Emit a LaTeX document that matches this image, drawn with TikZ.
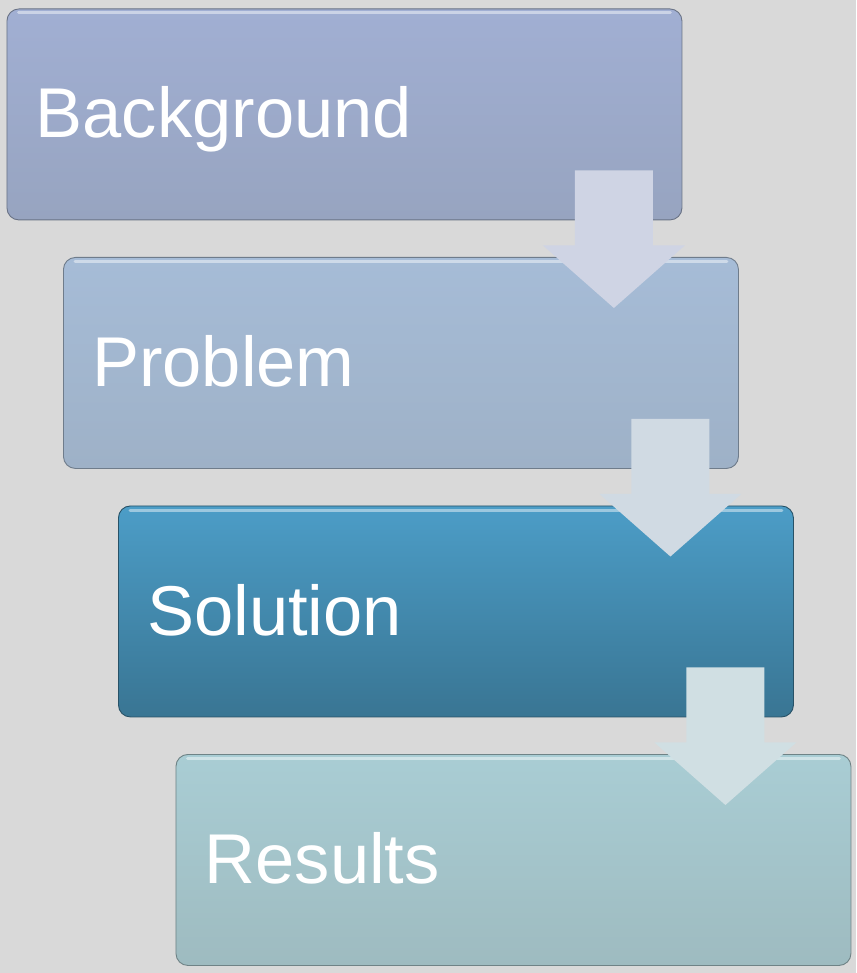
\documentclass[tikz,border=0pt]{standalone}
\usepackage{fontspec}
\setmainfont{Liberation Sans}
\usetikzlibrary{calc}
\definecolor{bgc}{HTML}{D9D9D9}
\definecolor{boxAt}{HTML}{A1AFD3}
\definecolor{boxAb}{HTML}{97A4C0}
\definecolor{boxBt}{HTML}{A6BCD7}
\definecolor{boxBb}{HTML}{9EB1C7}
\definecolor{boxCt}{HTML}{4C9DC7}
\definecolor{boxCb}{HTML}{397593}
\definecolor{boxDt}{HTML}{A9CDD4}
\definecolor{boxDb}{HTML}{9EBBC0}
\definecolor{arrA}{HTML}{CFD4E4}
\definecolor{arrB}{HTML}{D0DAE3}
\definecolor{arrC}{HTML}{D0DFE3}
\tikzset{
  stagebox/.style n args={2}{rounded corners=12pt, minimum width=675pt, minimum height=211pt,
    inner sep=0pt, anchor=north west, top color=#1, bottom color=#2, draw=#2!70!black, line width=0.9pt},
  stagetext/.style={anchor=base west, inner sep=0pt, text=white, font=\fontsize{70.5}{80}\selectfont},
  highlight/.style={white, opacity=0.45, line width=3pt, line cap=round},
}
\newcommand{\stagearrow}[3]{%
  \coordinate (#1c) at ($(#1.south east)+(-68.5,0)$);
  \coordinate (#1t) at ($(#2.north)+(0,51)$);
  \fill[#3] ($(#1c)+(-39,-50)$) -- ($(#1c)+(39,-50)$) -- ($(#1c)+(39,25)$) -- ($(#1c)+(71,25)$)
    -- (#1c |- #1t) -- ($(#1c)+(-71,25)$) -- ($(#1c)+(-39,25)$) -- cycle;
}
\newcommand{\boxshine}[1]{%
  \draw[highlight] ($(#1.north west)+(12,4.5)$) -- ($(#1.north east)+(-12,4.5)$);
}
\begin{document}
\begin{tikzpicture}[x=1pt, y=-1pt]
  \fill[bgc] (0,0) rectangle (856,973);
  \useasboundingbox (0,0) rectangle (856,973);
  \node[stagebox={boxAt}{boxAb}] (b1) at (6.5,8.5) {};
  \node[stagebox={boxBt}{boxBb}] (b2) at (63,257) {};
  \node[stagebox={boxCt}{boxCb}] (b3) at (118,505.5) {};
  \node[stagebox={boxDt}{boxDb}] (b4) at (175.5,754) {};
  \boxshine{b1}\boxshine{b2}\boxshine{b3}\boxshine{b4}
  \node[stagetext] (t1) at ($(b1.north west)+(29,129)$) {Background};
  \node[stagetext] (t2) at ($(b2.north west)+(29,129)$) {Problem};
  \node[stagetext] (t3) at ($(b3.north west)+(29,129.5)$) {Solution};
  \node[stagetext] (t4) at ($(b4.north west)+(29,129)$) {Results};
  \stagearrow{b1}{b2}{arrA}
  \stagearrow{b2}{b3}{arrB}
  \stagearrow{b3}{b4}{arrC}
\end{tikzpicture}
\end{document}
